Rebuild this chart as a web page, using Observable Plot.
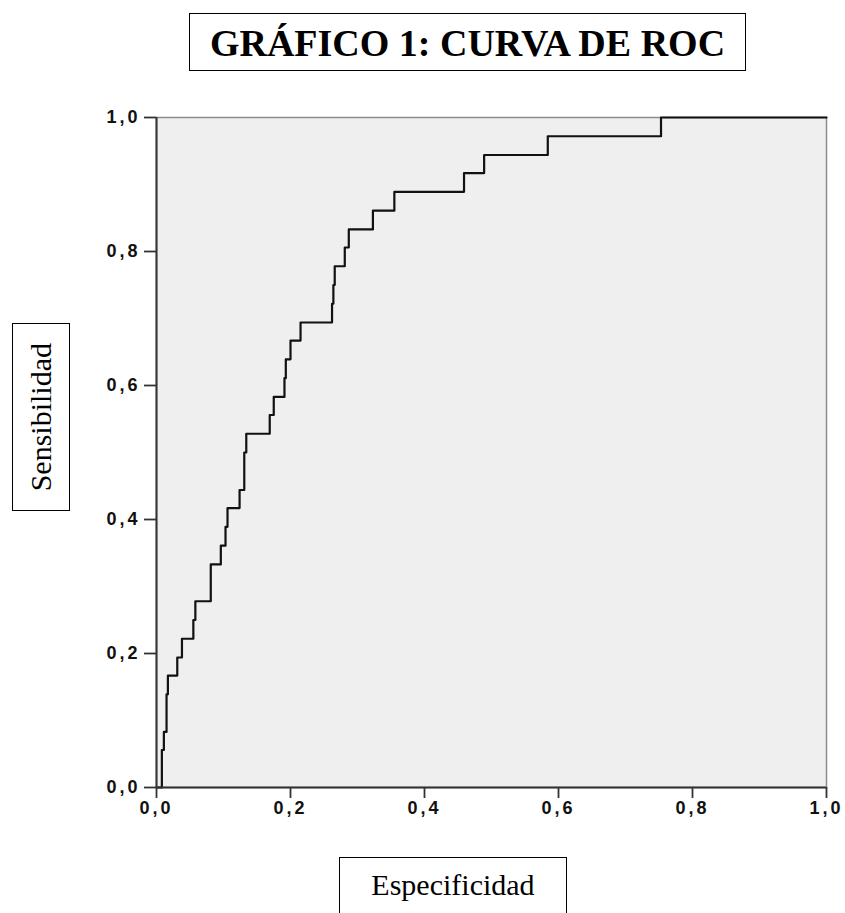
<!DOCTYPE html>
<html>
<head>
<meta charset="utf-8">
<script src="https://cdn.jsdelivr.net/npm/d3@7"></script>
<script src="https://cdn.jsdelivr.net/npm/@observablehq/plot@0.6"></script>
<style>
  html, body { margin: 0; padding: 0; background: #fff; }
  #wrap { position: relative; width: 845px; height: 913px; overflow: hidden; }
  #chart { position: absolute; left: 0; top: 0; }
  .box { position: absolute; border: 1.5px solid #000; box-sizing: border-box; background: #fff; color: #000; }
  #title { left: 189px; top: 13px; width: 557px; height: 58px; font: bold 38px "Liberation Serif", "DejaVu Serif", serif; text-align: center; line-height: 58px; }
  #ylab { left: 12px; top: 323px; width: 58px; height: 188px; font: 30px "Liberation Serif", serif; display: flex; align-items: center; justify-content: center; }
  #ylab span { writing-mode: vertical-rl; transform: rotate(180deg); white-space: nowrap; }
  #xlab { left: 339px; top: 857px; width: 228px; height: 80px; font: 30px "Liberation Serif", serif; text-align: center; line-height: 54px; }
</style>
</head>
<body>
<div id="wrap">
  <div id="chart"></div>
  <div class="box" id="title">GRÁFICO 1: CURVA DE ROC</div>
  <div class="box" id="ylab"><span>Sensibilidad</span></div>
  <div class="box" id="xlab">Especificidad</div>
</div>
<script>
// Step points of the ROC curve (x: 1 - especificidad axis value, y: sensibilidad)
const fpr = [0, 0.008, 0.011, 0.015, 0.017, 0.031, 0.038, 0.055, 0.058, 0.081, 0.096, 0.103, 0.106, 0.124, 0.131, 0.134, 0.169, 0.175, 0.191, 0.193, 0.200, 0.215, 0.262, 0.264, 0.266, 0.281, 0.287, 0.323, 0.355, 0.459, 0.489, 0.584, 0.753, 1.000];
const tpr = [0, 0.056, 0.083, 0.139, 0.167, 0.194, 0.222, 0.250, 0.278, 0.333, 0.361, 0.389, 0.417, 0.444, 0.500, 0.528, 0.556, 0.583, 0.611, 0.639, 0.667, 0.694, 0.722, 0.750, 0.778, 0.806, 0.833, 0.861, 0.889, 0.917, 0.944, 0.972, 1.000, 1.000];
const xTicks = [0, 0.2, 0.4, 0.6, 0.8, 1.0];
const yTicks = [0, 0.2, 0.4, 0.6, 0.8, 1.0];
const tickLabels = ["0,0", "0,2", "0,4", "0,6", "0,8", "1,0"];

const points = fpr.map((x, i) => ({x, y: tpr[i]}));
const fmt = d => tickLabels[xTicks.indexOf(d)];

const chart = Plot.plot({
  width: 845,
  height: 913,
  marginTop: 117,
  marginBottom: 126,
  marginLeft: 156,
  marginRight: 19,
  style: {background: "transparent", fontFamily: "'Liberation Sans', Arial, sans-serif", color: "#111"},
  x: {domain: [0, 1], label: null},
  y: {domain: [0, 1], label: null},
  marks: [
    Plot.frame({fill: "#efefef", stroke: "#8c8c8c", strokeWidth: 1.5}),
    Plot.line(points, {x: "x", y: "y", curve: "step-after", stroke: "#111", strokeWidth: 2.2}),
    Plot.ruleX([0], {stroke: "#333", strokeWidth: 2}),
    Plot.ruleY([0], {stroke: "#333", strokeWidth: 2}),
    Plot.axisX({ticks: xTicks, tickFormat: fmt, tickSize: 11, tickPadding: 3, fontWeight: "bold", stroke: "#333", strokeWidth: 1.8}),
    Plot.axisY({ticks: yTicks, tickFormat: fmt, tickSize: 12, tickPadding: 4, fontWeight: "bold", stroke: "#333", strokeWidth: 1.8})
  ]
});
d3.select(chart).selectAll("g").attr("font-size", null);
d3.select(chart).selectAll("text")
  .style("font-size", "18px")
  .style("font-weight", "bold")
  .style("letter-spacing", "3px");
document.getElementById("chart").appendChild(chart);
</script>
</body>
</html>
